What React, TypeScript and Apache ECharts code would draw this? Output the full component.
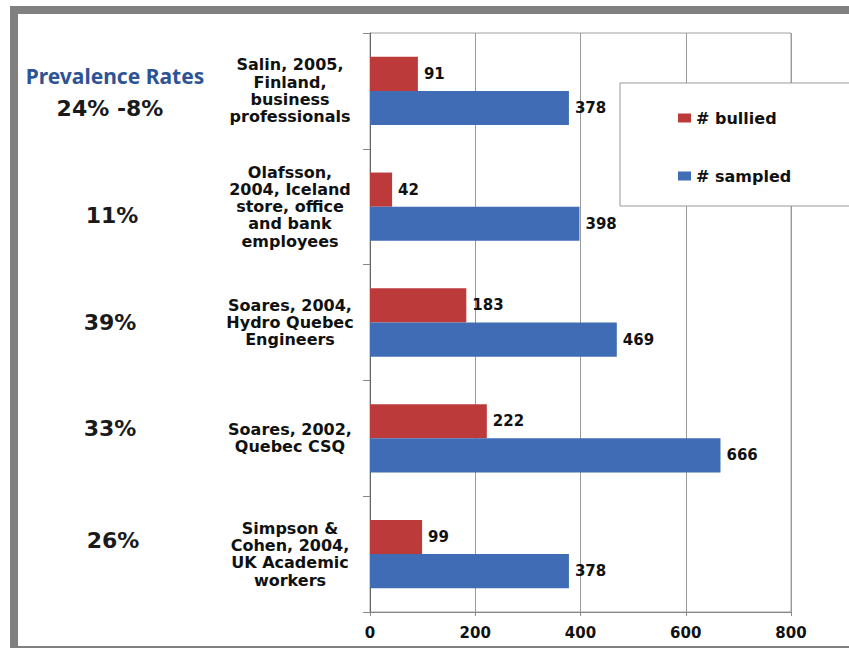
import React, { useEffect, useRef } from "react";
import * as echarts from "echarts";

const categories = [
  "Salin, 2005,\nFinland,\nbusiness\nprofessionals",
  "Olafsson,\n2004, Iceland\nstore, office\nand bank\nemployees",
  "Soares, 2004,\nHydro Quebec\nEngineers",
  "Soares, 2002,\nQuebec CSQ",
  "Simpson &\nCohen, 2004,\nUK Academic\nworkers",
];
const bullied = [91, 42, 183, 222, 99];
const sampled = [378, 398, 469, 666, 378];
const rateHeader = "Prevalence Rates";
const rates = ["24% -8%", "11%", "39%", "33%", "26%"];
const xTicks = { min: 0, max: 800, interval: 200 };

export default function App() {
  const ref = useRef<HTMLDivElement>(null);
  useEffect(() => {
    if (!ref.current) return;
    const chart = echarts.init(ref.current, undefined, { renderer: "svg" });
    const rateY = [108, 215, 322, 428, 540];
    const rateX = [110, 112, 110, 110, 113];
    const labelStyle = {
      show: true,
      position: "right",
      distance: 6,
      fontFamily: "DejaVu Sans",
      fontWeight: "bold",
      fontSize: 15,
      color: "#111",
    };
    chart.setOption({
      animation: false,
      backgroundColor: "#fff",
      textStyle: { fontFamily: "DejaVu Sans" },
      grid: {
        left: 370,
        top: 33,
        right: 58,
        bottom: 36,
        show: true,
        borderColor: "#a0a0a0",
        borderWidth: 1,
      },
      xAxis: {
        type: "value",
        min: xTicks.min,
        max: xTicks.max,
        interval: xTicks.interval,
        axisLine: { show: true, lineStyle: { color: "#888" } },
        axisTick: { show: true, length: 4, lineStyle: { color: "#888" } },
        splitLine: { show: true, lineStyle: { color: "#9a9a9a" } },
        axisLabel: {
          margin: 13,
          fontFamily: "DejaVu Sans",
          fontWeight: "bold",
          fontSize: 15,
          color: "#111",
        },
      },
      yAxis: {
        type: "category",
        inverse: true,
        data: categories,
        axisLine: { show: true, lineStyle: { color: "#666" } },
        axisTick: { show: true, length: 7, lineStyle: { color: "#888" } },
        axisLabel: {
          align: "center",
          margin: 80,
          fontFamily: "DejaVu Sans",
          fontWeight: "bold",
          fontSize: 16,
          lineHeight: 17.3,
          color: "#111",
        },
      },
      legend: {
        orient: "vertical",
        left: 673,
        top: 105,
        itemGap: 42,
        itemWidth: 13,
        itemHeight: 9,
        z: 20,
        icon: "rect",
        textStyle: {
          fontFamily: "DejaVu Sans",
          fontWeight: "bold",
          fontSize: 16,
          color: "#111",
        },
        data: ["# bullied", "# sampled"],
      },
      graphic: [
        {
          type: "rect",
          z: 15,
          shape: { x: 620, y: 83, width: 260, height: 123 },
          style: { fill: "#fff", stroke: "#999", lineWidth: 1 },
        },
        {
          type: "rect",
          z: 30,
          shape: { x: 10, y: 6, width: 860, height: 8 },
          style: { fill: "#808080" },
        },
        {
          type: "rect",
          z: 30,
          shape: { x: 10, y: 6, width: 8, height: 650 },
          style: { fill: "#808080" },
        },
        {
          type: "rect",
          z: 30,
          shape: { x: 10, y: 646, width: 860, height: 4 },
          style: { fill: "#808080" },
        },
        {
          type: "text",
          z: 30,
          x: 115,
          y: 76,
          style: {
            text: rateHeader,
            fontFamily: "Noto Sans",
            fontWeight: "bold",
            fontSize: 21,
            fill: "#2E5494",
            align: "center",
            verticalAlign: "middle",
          },
        },
        ...rates.map((r, i) => ({
          type: "text",
          z: 30,
          x: rateX[i],
          y: rateY[i],
          style: {
            text: r,
            fontFamily: "DejaVu Sans",
            fontWeight: "bold",
            fontSize: 22,
            fill: "#1a1a1a",
            align: "center",
            verticalAlign: "middle",
          },
        })),
      ],
      series: [
        {
          name: "# bullied",
          type: "bar",
          data: bullied,
          barGap: "0%",
          barCategoryGap: "41%",
          itemStyle: { color: "#BD3A3A" },
          label: labelStyle,
        },
        {
          name: "# sampled",
          type: "bar",
          data: sampled,
          barGap: "0%",
          barCategoryGap: "41%",
          itemStyle: { color: "#3F6CB5" },
          label: labelStyle,
        },
      ],
    });
    return () => chart.dispose();
  }, []);
  return (
    <div
      ref={ref}
      style={{ position: "fixed", left: 0, top: 0, width: 849, height: 648 }}
    />
  );
}
